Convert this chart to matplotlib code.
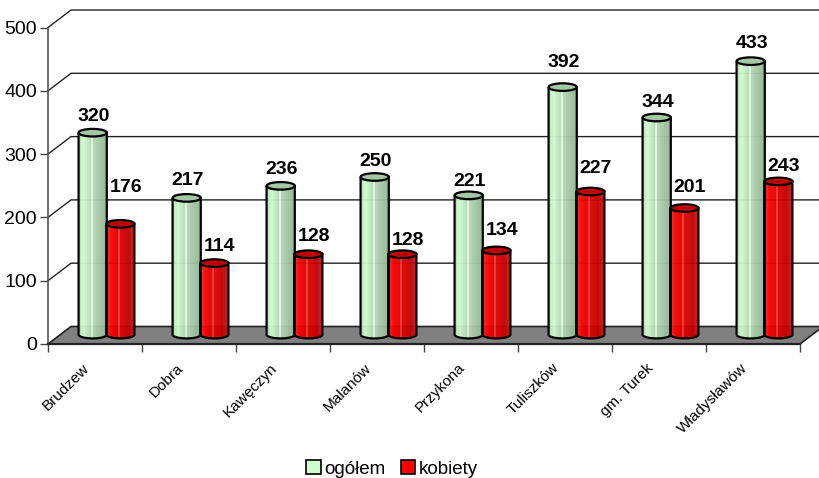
import numpy as np
import matplotlib
matplotlib.use('Agg')
import matplotlib.pyplot as plt
from matplotlib.colors import to_rgb
from matplotlib.patches import Ellipse, Patch, PathPatch, Polygon
from matplotlib.path import Path
from matplotlib.transforms import ScaledTranslation

plt.rcParams['font.family'] = ['Liberation Sans', 'DejaVu Sans']

categories = ['Brudzew', 'Dobra', 'Kawęczyn', 'Malanów', 'Przykona', 'Tuliszków', 'gm. Turek', 'Władysławów']
ogolem = [320, 217, 236, 250, 221, 392, 344, 433]
kobiety = [176, 114, 128, 128, 134, 227, 201, 243]
y_ticks = [0, 100, 200, 300, 400, 500]
series_names = ['ogółem', 'kobiety']

# how far each number sits above its bar, a few were moved by hand in the original
green_lift = [16, 17, 16, 16, 14, 25, 15, 18]
red_lift = [36, 17, 18, 14, 20, 23, 21, 15]

# 3d look, in data units
DEPTH_X = 23 / 94
DEPTH_Y = 17.5 / 63.3 * 100
BAR_W = 0.30
BAR_GAP = 0.147
ELL_H = 12

GREEN_BANDS = ['#b8e4b8', '#c8f4c8', '#d0f8d0', '#c8f0c8', '#c0e8c0', '#b8e0b8', '#e0f4e0', '#b0d4b0',
               '#a8cca8', '#a4c8a4', '#a0c0a0', '#9cbc9c', '#98b898', '#94b094']
RED_BANDS = ['#d80000', '#ff1010', '#ff0000', '#f00000', '#e80000', '#e00000', '#f03030', '#d80000',
             '#d00000', '#c80000', '#c00000', '#b80808', '#b01818', '#a82828']


def cylinder(ax, xc, value, bands, top_color):
    left, right = xc - BAR_W / 2, xc + BAR_W / 2
    base = DEPTH_Y / 2 + 1
    top = base + value - 1
    t = np.linspace(np.pi, 2 * np.pi, 30)
    xs = np.concatenate([[left], xc + BAR_W / 2 * np.cos(t), [right, left]])
    ys = np.concatenate([[top], base + ELL_H / 2 * np.sin(t), [top, top]])
    path = Path(np.column_stack([xs, ys]))
    grad = np.array([to_rgb(c) for c in bands])[None, :, :]
    im = ax.imshow(grad, extent=[left, right, base - ELL_H, top], aspect='auto',
                   interpolation='nearest', alpha=0.95, zorder=4, clip_on=True)
    outline = PathPatch(path, fc='none', ec='black', lw=1.6, zorder=5, clip_on=False)
    ax.add_patch(outline)
    im.set_clip_path(outline)
    ax.add_patch(Ellipse((xc, top), BAR_W, ELL_H, fc=top_color, ec='black', lw=1.6, zorder=6, clip_on=False))


fig = plt.figure(figsize=(8.2, 4.78), dpi=100)
ax = fig.add_axes([48 / 820, 1 - 344 / 478, 752 / 820, 316.5 / 478])

n = len(categories)

# back wall grid and the slanted bits on the left side
for v in y_ticks[1:]:
    ax.plot([0, DEPTH_X, n + DEPTH_X], [v, v + DEPTH_Y, v + DEPTH_Y], color='#222222', lw=1.0, zorder=1, clip_on=False)

# floor
floor = [(0, 0), (n, 0), (n + DEPTH_X, DEPTH_Y), (DEPTH_X, DEPTH_Y)]
ax.add_patch(Polygon(floor, closed=True, fc='#808080', ec='#222222', lw=1.2, zorder=2, clip_on=False))

for i in range(n):
    cx = i + 0.5 + DEPTH_X / 2
    cylinder(ax, cx - BAR_GAP, ogolem[i], GREEN_BANDS, '#a4c8a4')
    cylinder(ax, cx + BAR_GAP, kobiety[i], RED_BANDS, '#c00000')
    ax.text(cx - BAR_GAP + 0.01, DEPTH_Y / 2 + ogolem[i] + green_lift[i] / 0.633, str(ogolem[i]),
            ha='center', va='center', fontsize=14, fontweight='bold', color='black', zorder=7)
    ax.text(cx + BAR_GAP + 0.06, DEPTH_Y / 2 + kobiety[i] + red_lift[i] / 0.633, str(kobiety[i]),
            ha='center', va='center', fontsize=14, fontweight='bold', color='black', zorder=7)

ax.set_xlim(0, n)
ax.set_ylim(0, 500)
ax.patch.set_visible(False)
for s in ['top', 'right']:
    ax.spines[s].set_visible(False)
ax.spines['left'].set_color('#555555')
ax.spines['left'].set_linewidth(1.2)
ax.spines['bottom'].set_color('#222222')
ax.spines['bottom'].set_linewidth(1.6)
ax.spines['bottom'].set_zorder(3)

ax.set_yticks(y_ticks)
ax.tick_params(axis='y', length=6, width=1, color='#444444', labelsize=14, pad=2)
ax.set_xticks(np.arange(n + 1))
ax.set_xticklabels([])
ax.tick_params(axis='x', which='major', length=6, width=1, color='#444444')
ax.set_xticks(np.arange(n) + 0.5, minor=True)
ax.set_xticklabels(categories, minor=True, rotation=45, ha='right', va='top', rotation_mode='anchor', fontsize=11)
ax.tick_params(axis='x', which='minor', length=0, pad=12)
shift = ScaledTranslation(-13 / 100, 0, fig.dpi_scale_trans)
for lab in ax.get_xticklabels(minor=True):
    lab.set_transform(lab.get_transform() + shift)

handles = [Patch(fc='#ccffcc', ec='black', lw=1.2), Patch(fc='#ff0000', ec='black', lw=1.2)]
fig.legend(handles, series_names, loc='center', bbox_to_anchor=(392 / 820, 1 - 469 / 478), ncol=2, frameon=False,
           fontsize=13.5, handlelength=0.75, handleheight=0.75, handletextpad=0.2, columnspacing=0.8,
           borderpad=0)

fig.savefig('out.png', dpi=100)
